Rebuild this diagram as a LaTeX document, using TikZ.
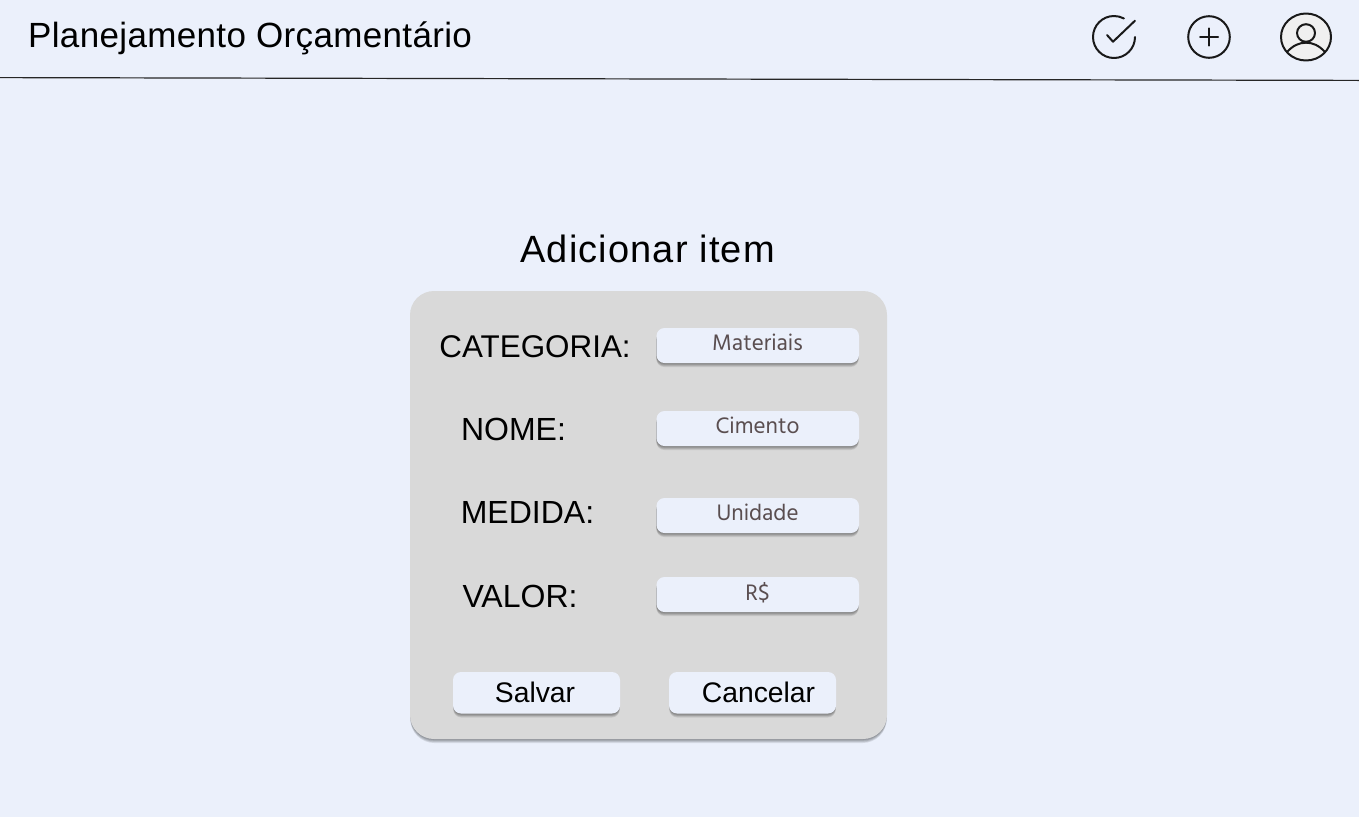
\documentclass[tikz,border=0pt]{standalone}
\usepackage{fontspec}
\setmainfont{Liberation Sans}
\newfontfamily\titlefont[LetterSpace=1]{Liberation Sans}
\newfontfamily\headfont[LetterSpace=3]{Liberation Sans}
\newfontfamily\fieldfont{Hind Siliguri}
\definecolor{pagebg}{HTML}{EBF0FB}
\definecolor{panelgray}{HTML}{D9D9D9}
\definecolor{fieldtext}{HTML}{5A4E50}
\definecolor{avatarfill}{HTML}{F0F0F0}
% x, y, right, bottom, corner radius: a soft shadow falling below a box
\newcommand{\softshadow}[5]{%
  \foreach \g in {4,3.2,2.4,1.6,0.8}{%
    \fill[black,opacity=0.09,rounded corners=#5]
      (#1+0.3,#2+4) rectangle (#3-0.3,#4+\g);
  }%
}
\tikzset{
  x=1pt,y=-1pt,
  panelbox/.style={fill=panelgray,rounded corners=24pt},
  fieldbox/.style={fill=pagebg,rounded corners=8pt},
  btnbox/.style={fill=pagebg,rounded corners=8pt},
  titletxt/.style={inner sep=0,anchor=center,font=\titlefont\fontsize{35}{40}\selectfont},
  headtxt/.style={inner sep=0,anchor=center,font=\headfont\fontsize{38}{44}\selectfont},
  labeltxt/.style={inner sep=0,anchor=center,font=\fontsize{32}{38}\selectfont},
  btntxt/.style={inner sep=0,anchor=center,font=\fontsize{28.3}{34}\selectfont},
  fieldtxt/.style={inner sep=0,anchor=center,text=fieldtext,font=\fieldfont\fontsize{23}{28}\selectfont},
  icon/.style={draw=black!90,line width=2pt,line cap=round,line join=round},
}
\begin{document}
\begin{tikzpicture}
\useasboundingbox (0,0) rectangle (1359,817);
\fill[pagebg] (0,0) rectangle (1359,817);
% header
\coordinate (ruleL) at (0,77.6);
\coordinate (ruleR) at (1359,80.4);
\draw[line width=1.2pt,black!85] (ruleL) -- (ruleR);
\node[titletxt,anchor=west] (title) at (28,38.5) {Planejamento Orçamentário};
% icons
\draw[icon] (1135,37) arc[start angle=0,end angle=298,radius=21];
\draw[icon] (1107,35) -- (1113,41.7) -- (1135,20.7);
\draw[icon] (1209,37) circle[radius=20.8];
\draw[icon] (1209,28.3) -- (1209,45.7) (1200,37) -- (1218,37);
\draw[icon,fill=avatarfill] (1306,37) ellipse[x radius=25,y radius=23.5];
\draw[icon] (1306,33) ellipse[x radius=9,y radius=8.8];
\draw[icon] (1287,52) .. controls (1293,45.5) and (1299,42.7) .. (1306,42.7)
  .. controls (1313,42.7) and (1319,45.5) .. (1325,52);
% heading
\node[headtxt] (heading) at (647.5,249) {Adicionar item};
% panel
\softshadow{410}{291}{887}{739}{24pt}
\fill[panelbox] (410,291) rectangle (887,739);
% fields
\foreach \y in {328,411,498,577}{
  \softshadow{656}{\y}{859}{\y+35}{8pt}
  \fill[fieldbox] (656.5,\y) rectangle (859,\y+35);
}
\foreach \x in {453,669}{
  \softshadow{\x}{672}{\x+167}{713.5}{8pt}
  \fill[btnbox] (\x,672) rectangle (\x+167,713.5);
}
% labels
\node[labeltxt,font=\fontsize{31.4}{38}\selectfont] (lcat) at (535,346.5) {CATEGORIA:};
\node[labeltxt] (lnom) at (513.5,429) {NOME:};
\node[labeltxt] (lmed) at (527.5,512.5) {MEDIDA:};
\node[labeltxt] (lval) at (520,596) {VALOR:};
\node[fieldtxt] (fcat) at (757.5,342.5) {Materiais};
\node[fieldtxt] (fnom) at (757.5,425.5) {Cimento};
\node[fieldtxt] (fmed) at (757.5,512.5) {Unidade};
\node[fieldtxt] (fval) at (757.5,593) {R\$};
\node[btntxt] (bsal) at (535,692.5) {Salvar};
\node[btntxt] (bcan) at (758.5,692.5) {Cancelar};
\end{tikzpicture}
\end{document}
